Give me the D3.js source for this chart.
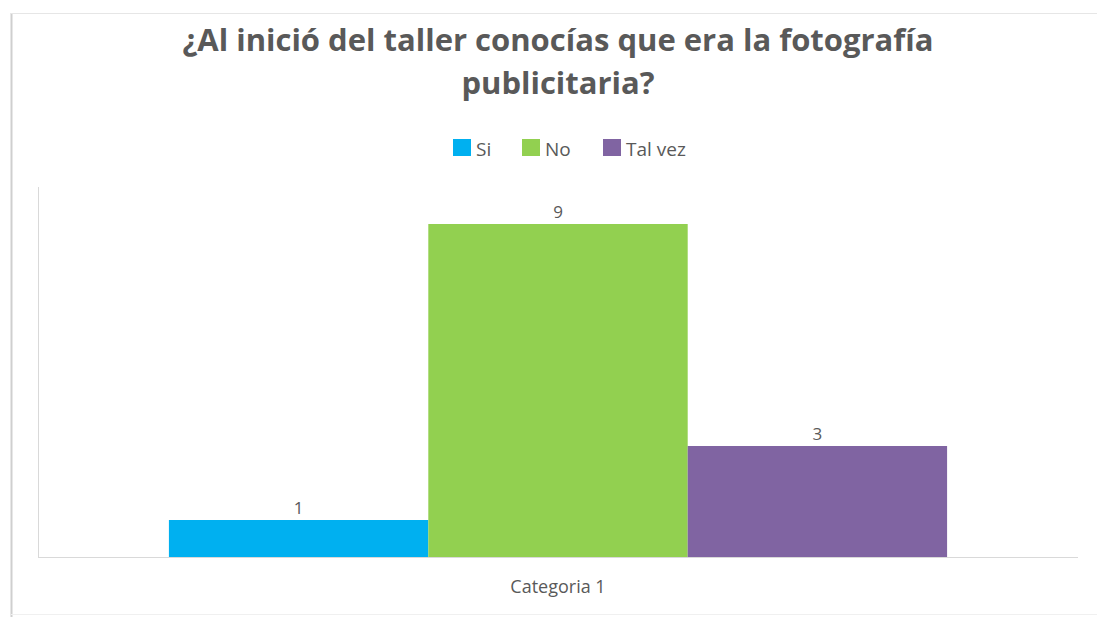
<!DOCTYPE html>
<html>
<head>
<meta charset="utf-8">
<script src="https://cdn.jsdelivr.net/npm/d3@7"></script>
<style>
  html, body { margin: 0; padding: 0; background: #fff; }
  svg { display: block; }
  text { font-family: "Open Sans", "Noto Sans", sans-serif; fill: #595959; }
</style>
</head>
<body>
<svg id="chart" width="1097" height="617"></svg>
<script>
// Chart data
const categories = ["Categoria 1"];
const seriesNames = ["Si", "No", "Tal vez"];
const seriesValues = [1, 9, 3];
const seriesColors = ["#00b0f0", "#92d050", "#8064a2"];
const titleLines = ["¿Al inició del taller conocías que era la fotografía", "publicitaria?"];

const W = 1097, H = 617;
const plot = { left: 38, right: 1078, top: 187, bottom: 557 };

const svg = d3.select("#chart");

// Frame around the chart area
svg.append("line").attr("x1", 11.5).attr("x2", 11.5).attr("y1", 13).attr("y2", H)
  .attr("stroke", "#cfcfcf").attr("stroke-width", 2);
svg.append("line").attr("x1", 11).attr("x2", W).attr("y1", 13.5).attr("y2", 13.5)
  .attr("stroke", "#e6e6e6").attr("stroke-width", 1);
svg.append("line").attr("x1", 11).attr("x2", W).attr("y1", 614.5).attr("y2", 614.5)
  .attr("stroke", "#f0f0f0").attr("stroke-width", 1);

// Title
const title = svg.append("text")
  .attr("text-anchor", "middle")
  .style("font-size", "31px").style("font-weight", "bold");
titleLines.forEach((t, i) => {
  title.append("tspan").attr("x", 558).attr("y", 51 + i * 43).text(t);
});

// Scales
const x0 = d3.scaleBand().domain(categories).range([plot.left, plot.right]).padding(0.144);
const x1 = d3.scaleBand().domain(seriesNames).range([0, x0.bandwidth()]).padding(0);
const y = d3.scaleLinear().domain([0, 10]).range([plot.bottom, plot.top]);

// Left axis line (no ticks)
svg.append("line").attr("x1", plot.left + 0.5).attr("x2", plot.left + 0.5)
  .attr("y1", plot.top).attr("y2", plot.bottom)
  .attr("stroke", "#d9d9d9").attr("stroke-width", 1);

// Bars
const data = seriesNames.map((s, i) => ({ cat: categories[0], name: s, value: seriesValues[i], color: seriesColors[i] }));
const g = svg.append("g");
g.selectAll("rect").data(data).enter().append("rect")
  .attr("x", d => x0(d.cat) + x1(d.name))
  .attr("y", d => y(d.value))
  .attr("width", x1.bandwidth())
  .attr("height", d => y(0) - y(d.value))
  .attr("fill", d => d.color);

// Value labels
g.selectAll("text.val").data(data).enter().append("text")
  .attr("class", "val")
  .attr("x", d => x0(d.cat) + x1(d.name) + x1.bandwidth() / 2)
  .attr("y", d => y(d.value) - 6)
  .attr("text-anchor", "middle")
  .style("font-size", "17px")
  .text(d => d.value);

// Category axis
const xAxis = d3.axisBottom(x0).tickSize(0).tickPadding(0);
const ax = svg.append("g").attr("transform", `translate(0,${plot.bottom})`).call(xAxis);
ax.select(".domain").attr("stroke", "#d9d9d9").attr("d", `M${plot.left},0.5H${plot.right}`);
ax.selectAll(".tick text")
  .attr("dy", 0).attr("y", 36)
  .style("font-size", "18px").style("fill", "#595959")
  .style("font-family", "'Open Sans', 'Noto Sans', sans-serif");

// Legend
const legendX = [453, 522, 603];
const legend = svg.append("g");
seriesNames.forEach((s, i) => {
  legend.append("rect").attr("x", legendX[i]).attr("y", 139).attr("width", 18).attr("height", 17)
    .attr("fill", seriesColors[i]);
  legend.append("text").attr("x", legendX[i] + 23).attr("y", 156)
    .style("font-size", "19px").text(s);
});
</script>
</body>
</html>
